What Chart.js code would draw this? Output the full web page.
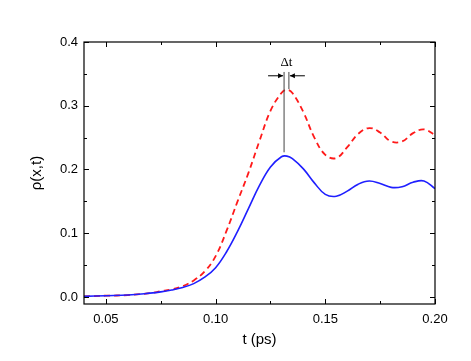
<html>
<head>
    <title>rho(x,t)</title>
    <style>
        body { margin: 0; background: #fff; }
        #wrap { width: 471px; height: 361px; }
    </style>
</head>
<body>
    <div id="wrap"><canvas id="grafico" width="471" height="361"></canvas></div>

    <script src="https://cdn.jsdelivr.net/npm/chart.js"></script>

    <script>
        // datos
        const tiempos = [0.04, 0.05, 0.06, 0.07, 0.075, 0.08, 0.085, 0.09, 0.095, 0.10, 0.105, 0.11, 0.115, 0.12, 0.125, 0.13, 0.1325, 0.135, 0.14, 0.145, 0.15, 0.155, 0.16, 0.165, 0.17, 0.175, 0.18, 0.185, 0.19, 0.195, 0.20];
        const rhoAzul = [0.001, 0.002, 0.003, 0.006, 0.008, 0.011, 0.015, 0.021, 0.031, 0.046, 0.071, 0.103, 0.139, 0.175, 0.204, 0.220, 0.221, 0.217, 0.201, 0.179, 0.161, 0.158, 0.166, 0.177, 0.182, 0.178, 0.172, 0.173, 0.180, 0.182, 0.170];
        const rhoRojo = [0.001, 0.002, 0.003, 0.006, 0.009, 0.012, 0.017, 0.026, 0.040, 0.064, 0.104, 0.150, 0.195, 0.245, 0.292, 0.320, 0.325, 0.320, 0.290, 0.250, 0.223, 0.218, 0.235, 0.256, 0.265, 0.258, 0.244, 0.244, 0.257, 0.263, 0.254];

        const xTicks = [0.05, 0.10, 0.15, 0.20];
        const xMinor = [0.075, 0.125, 0.175];
        const yTicks = [0.0, 0.1, 0.2, 0.3, 0.4];
        const yMinor = [0.05, 0.15, 0.25, 0.35];

        // posiciones de los picos para la marca de delta t
        const picoAzul = 0.1312;
        const picoRojo = 0.1334;

        const puntos = (ys) => tiempos.map((t, i) => ({ x: t, y: ys[i] }));

        // marco y ticks hacia dentro
        const marcoPlugin = {
            id: 'marco',
            afterDraw(chart) {
                const ctx = chart.ctx;
                const a = chart.chartArea;
                const sx = chart.scales.x, sy = chart.scales.y;
                ctx.save();
                ctx.strokeStyle = '#000';
                ctx.lineWidth = 1.2;
                ctx.strokeRect(a.left, a.top, a.right - a.left, a.bottom - a.top);
                ctx.lineWidth = 1;
                const tickX = (v, len) => {
                    const px = Math.round(sx.getPixelForValue(v)) + 0.5;
                    ctx.beginPath();
                    ctx.moveTo(px, a.bottom); ctx.lineTo(px, a.bottom - len);
                    ctx.moveTo(px, a.top); ctx.lineTo(px, a.top + len);
                    ctx.stroke();
                };
                const tickY = (v, len) => {
                    const py = Math.round(sy.getPixelForValue(v)) + 0.5;
                    ctx.beginPath();
                    ctx.moveTo(a.left, py); ctx.lineTo(a.left + len, py);
                    ctx.moveTo(a.right, py); ctx.lineTo(a.right - len, py);
                    ctx.stroke();
                };
                xTicks.forEach(v => tickX(v, 5));
                xMinor.forEach(v => tickX(v, 3));
                yTicks.forEach(v => tickY(v, 5));
                yMinor.forEach(v => tickY(v, 3));

                // marca delta t
                const xl = sx.getPixelForValue(picoAzul);
                const xr = sx.getPixelForValue(picoRojo);
                const yTop = sy.getPixelForValue(0.353);
                ctx.strokeStyle = '#444';
                ctx.lineWidth = 1;
                ctx.beginPath();
                ctx.moveTo(xl, yTop); ctx.lineTo(xl, sy.getPixelForValue(0.227));
                ctx.moveTo(xr, yTop); ctx.lineTo(xr, sy.getPixelForValue(0.326));
                ctx.stroke();
                const yF = sy.getPixelForValue(0.347);
                ctx.strokeStyle = '#000';
                ctx.fillStyle = '#000';
                ctx.beginPath();
                ctx.moveTo(xl - 16, yF); ctx.lineTo(xl - 1, yF);
                ctx.moveTo(xr + 16, yF); ctx.lineTo(xr + 1, yF);
                ctx.stroke();
                ctx.beginPath();
                ctx.moveTo(xl - 1, yF); ctx.lineTo(xl - 6, yF - 2.5); ctx.lineTo(xl - 6, yF + 2.5); ctx.closePath();
                ctx.moveTo(xr + 1, yF); ctx.lineTo(xr + 6, yF - 2.5); ctx.lineTo(xr + 6, yF + 2.5); ctx.closePath();
                ctx.fill();
                ctx.font = '13px "Liberation Serif"';
                ctx.textAlign = 'center';
                ctx.textBaseline = 'middle';
                ctx.fillText('\u0394t', (xl + xr) / 2, sy.getPixelForValue(0.368));
                ctx.restore();
            }
        };

        const ctx = document.getElementById('grafico').getContext('2d');
        const grafico = new Chart(ctx, {
            type: 'line',
            data: {
                datasets: [
                    {
                        data: puntos(rhoAzul),
                        borderColor: '#1f1fff',
                        borderWidth: 1.6,
                        pointRadius: 0,
                        fill: false,
                        tension: 0.4
                    },
                    {
                        data: puntos(rhoRojo),
                        borderColor: '#ff1a1a',
                        borderWidth: 1.8,
                        borderDash: [6, 4],
                        pointRadius: 0,
                        fill: false,
                        tension: 0.4
                    }
                ]
            },
            options: {
                responsive: false,
                animation: false,
                layout: { padding: { left: 28, right: 36, top: 42, bottom: 0 } },
                plugins: { legend: { display: false }, tooltip: { enabled: false } },
                scales: {
                    x: {
                        type: 'linear',
                        min: 0.04,
                        max: 0.20,
                        afterBuildTicks: (s) => { s.ticks = xTicks.map(v => ({ value: v })); },
                        afterFit: (s) => { s.height = 57; },
                        grid: { display: false, drawTicks: false },
                        border: { display: false },
                        ticks: {
                            color: '#000',
                            padding: 8,
                            maxRotation: 0,
                            font: { family: 'Liberation Sans', size: 13 },
                            callback: (v) => v.toFixed(2)
                        },
                        title: {
                            display: true,
                            text: 't (ps)',
                            color: '#000',
                            font: { family: 'Liberation Sans', size: 15 },
                            padding: { top: 0, bottom: 12 }
                        }
                    },
                    y: {
                        type: 'linear',
                        min: -0.011,
                        max: 0.4,
                        afterBuildTicks: (s) => { s.ticks = yTicks.map(v => ({ value: v })); },
                        afterFit: (s) => { s.width = 56; },
                        grid: { display: false, drawTicks: false },
                        border: { display: false },
                        ticks: {
                            color: '#000',
                            padding: 6,
                            font: { family: 'Liberation Sans', size: 13 },
                            callback: (v) => v.toFixed(1)
                        },
                        title: {
                            display: true,
                            text: '\u03c1(x,t)',
                            color: '#000',
                            font: { family: 'Liberation Sans', size: 15 },
                            padding: { top: 0, bottom: 0 }
                        }
                    }
                }
            },
            plugins: [marcoPlugin]
        });
    </script>
</body>
</html>
